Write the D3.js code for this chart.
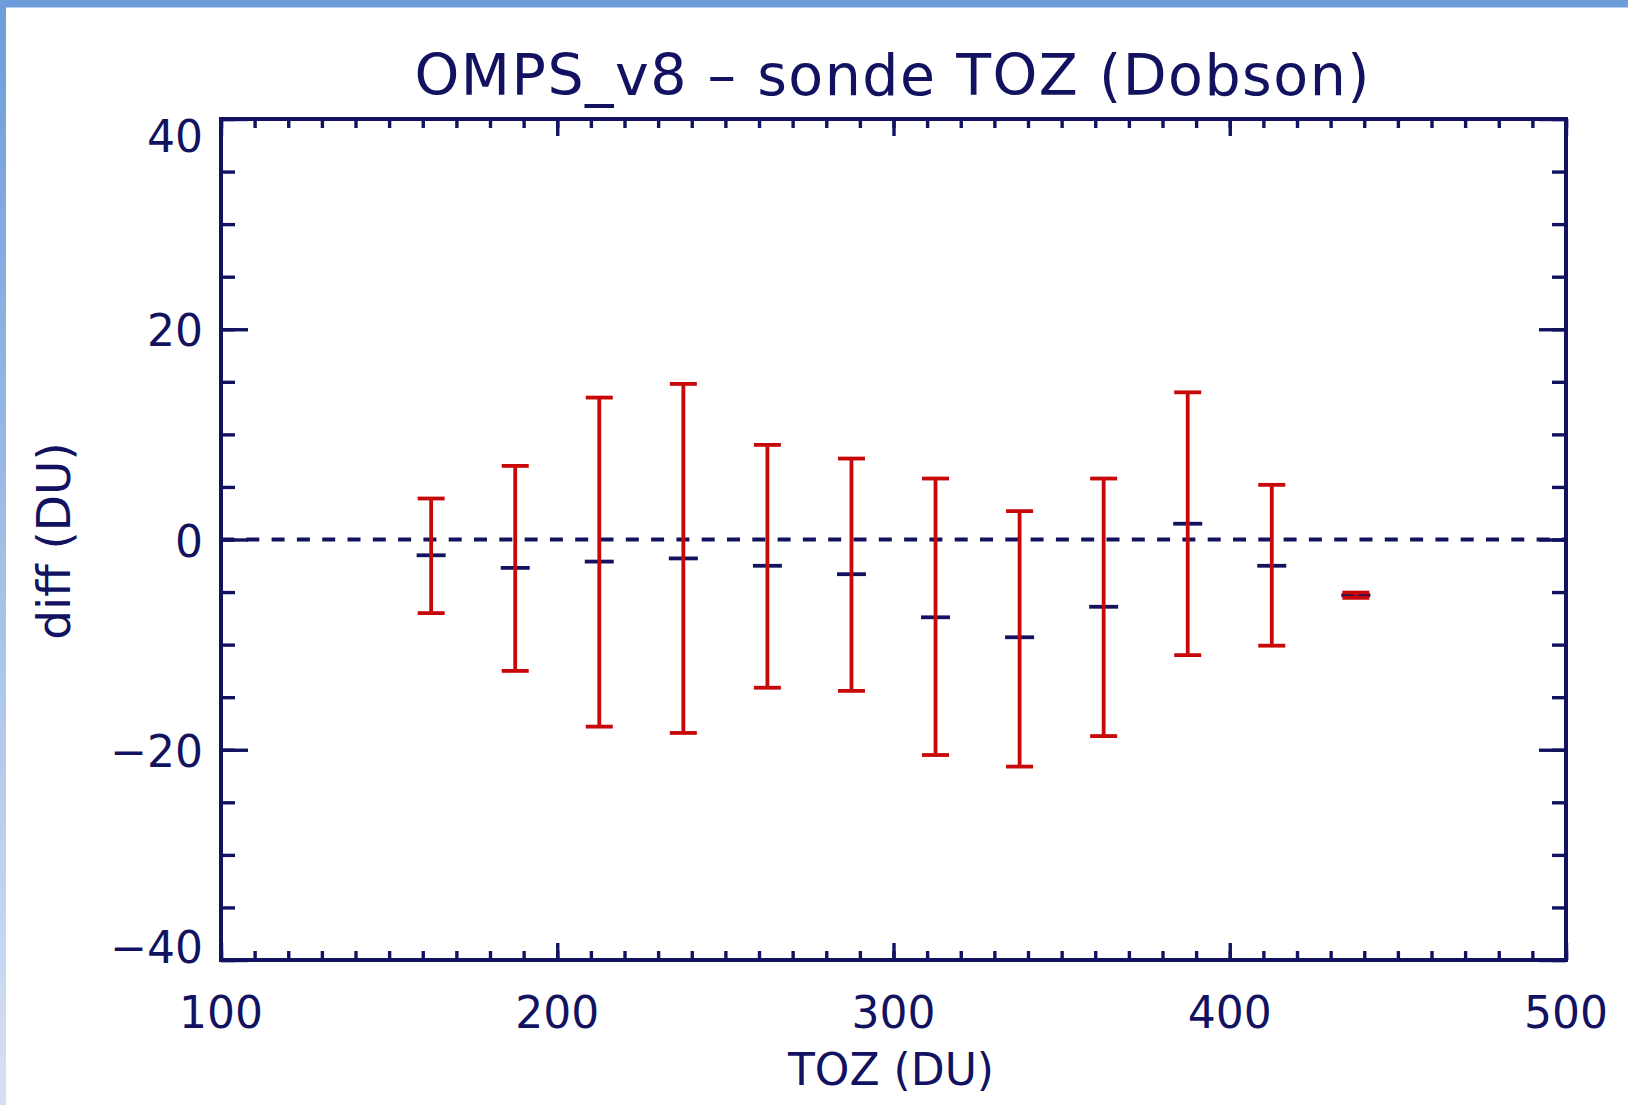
<!DOCTYPE html>
<html>
<head>
<meta charset="utf-8">
<script src="https://cdn.jsdelivr.net/npm/d3@7"></script>
<style>
html,body{margin:0;padding:0;background:#fff;}
svg{display:block;}
text{font-family:"DejaVu Sans",sans-serif;fill:#121260;}
</style>
</head>
<body>
<script>
// ---- data ----
const tozBins   = [162.5, 187.5, 212.5, 237.5, 262.5, 287.5, 312.5, 337.5, 362.5, 387.5, 412.5, 437.5];
const meanDiff  = [-1.5, -2.7, -2.1, -1.8, -2.5, -3.3, -7.4, -9.3, -6.4, 1.5, -2.5, -5.3];
const upperDiff = [3.9, 7.0, 13.5, 14.8, 9.0, 7.7, 5.8, 2.7, 5.8, 14.0, 5.2, -5.05];
const lowerDiff = [-7.0, -12.5, -17.8, -18.4, -14.1, -14.4, -20.5, -21.6, -18.7, -11.0, -10.1, -5.55];
const xTickLabels = [100, 200, 300, 400, 500];
const yTickLabels = [-40, -20, 0, 20, 40];
const xMinorTicks = d3.range(100, 501, 10);
const yMinorTicks = d3.range(-40, 41, 5);
const titleText = "OMPS_v8 \u2013 sonde TOZ (Dobson)";
const xTitle = "TOZ (DU)";
const yTitle = "diff (DU)";

// ---- layout ----
const W = 1628, H = 1105;
const L = 221, R = 1566, T = 119, B = 960;
const navy = "#121260", red = "#c80808";

const svg = d3.select("body").append("svg").attr("width", W).attr("height", H);

const defs = svg.append("defs");
const grad = defs.append("linearGradient").attr("id", "lg").attr("x1", 0).attr("y1", 0).attr("x2", 0).attr("y2", 1);
grad.append("stop").attr("offset", "0%").attr("stop-color", "#6d9ddb");
grad.append("stop").attr("offset", "100%").attr("stop-color", "#d6e0f3");

svg.append("rect").attr("width", W).attr("height", H).attr("fill", "#fff");
svg.append("rect").attr("x", 0).attr("y", 0).attr("width", 6).attr("height", H).attr("fill", "url(#lg)");
svg.append("rect").attr("x", 0).attr("y", 0).attr("width", W).attr("height", 7.5).attr("fill", "#6d9ddb");

const x = d3.scaleLinear().domain([100, 500]).range([L, R]);
const y = d3.scaleLinear().domain([-40, 40]).range([B, T]);

// ---- ticks via d3 axes ----
function tickAxis(axisFn, scale, values, size, tx, ty) {
  const g = svg.append("g").attr("transform", `translate(${tx},${ty})`)
    .call(axisFn(scale).tickValues(values).tickSize(size).tickFormat(""));
  g.select(".domain").remove();
  g.selectAll(".tick line").attr("stroke", navy).attr("stroke-width", 3.4);
  g.selectAll(".tick text").remove();
  return g;
}
tickAxis(d3.axisBottom, x, xMinorTicks, -9, 0, B);
tickAxis(d3.axisBottom, x, xTickLabels, -17, 0, B);
tickAxis(d3.axisTop, x, xMinorTicks, -9, 0, T);
tickAxis(d3.axisTop, x, xTickLabels, -17, 0, T);
tickAxis(d3.axisLeft, y, yMinorTicks, -14, L, 0);
tickAxis(d3.axisLeft, y, yTickLabels, -27, L, 0);
tickAxis(d3.axisRight, y, yMinorTicks, -14, R, 0);
tickAxis(d3.axisRight, y, yTickLabels, -27, R, 0);

// frame
svg.append("rect").attr("x", L).attr("y", T).attr("width", R - L).attr("height", B - T)
  .attr("fill", "none").attr("stroke", navy).attr("stroke-width", 4);

// zero dashed line
svg.append("line").attr("x1", x(100)).attr("x2", x(500)).attr("y1", y(0)).attr("y2", y(0))
  .attr("stroke", navy).attr("stroke-width", 4).attr("stroke-dasharray", "13,12.3");

// ---- data marks ----
const pts = tozBins.map((b, i) => ({b, m: meanDiff[i], hi: upperDiff[i], lo: lowerDiff[i]}));

svg.append("g").selectAll("line").data(pts).join("line")
  .attr("x1", d => x(d.b) - 14.5).attr("x2", d => x(d.b) + 14.5)
  .attr("y1", d => y(d.m)).attr("y2", d => y(d.m))
  .attr("stroke", navy).attr("stroke-width", 3.8);

const eb = svg.append("g").attr("stroke", red).attr("stroke-width", 3.8);
eb.selectAll(".v").data(pts).join("line").attr("class", "v")
  .attr("x1", d => x(d.b)).attr("x2", d => x(d.b))
  .attr("y1", d => y(d.hi)).attr("y2", d => y(d.lo));
eb.selectAll(".ct").data(pts).join("line").attr("class", "ct")
  .attr("x1", d => x(d.b) - 13.5).attr("x2", d => x(d.b) + 13.5)
  .attr("y1", d => y(d.hi)).attr("y2", d => y(d.hi));
eb.selectAll(".cb").data(pts).join("line").attr("class", "cb")
  .attr("x1", d => x(d.b) - 13.5).attr("x2", d => x(d.b) + 13.5)
  .attr("y1", d => y(d.lo)).attr("y2", d => y(d.lo));

// ---- tick labels ----
const fmt = v => (v < 0 ? "\u2212" + Math.abs(v) : String(v));
svg.append("g").selectAll("text").data(xTickLabels).join("text")
  .attr("x", d => x(d)).attr("y", 1028).attr("text-anchor", "middle")
  .attr("font-size", 44).text(fmt);
svg.append("g").selectAll("text").data(yTickLabels).join("text")
  .attr("x", 203).attr("y", d => Math.max(T + 33, Math.min(B + 3, y(d) + 17)))
  .attr("text-anchor", "end").attr("font-size", 44).text(fmt);

// ---- titles ----
svg.append("text").attr("x", 892).attr("y", 95).attr("text-anchor", "middle")
  .attr("font-size", 57).attr("textLength", 955).attr("lengthAdjust", "spacing").text(titleText);
svg.append("text").attr("x", 891).attr("y", 1085).attr("text-anchor", "middle")
  .attr("font-size", 44).text(xTitle);
svg.append("text").attr("transform", "translate(70,541) rotate(-90)").attr("text-anchor", "middle")
  .attr("font-size", 47).text(yTitle);
</script>
</body>
</html>
